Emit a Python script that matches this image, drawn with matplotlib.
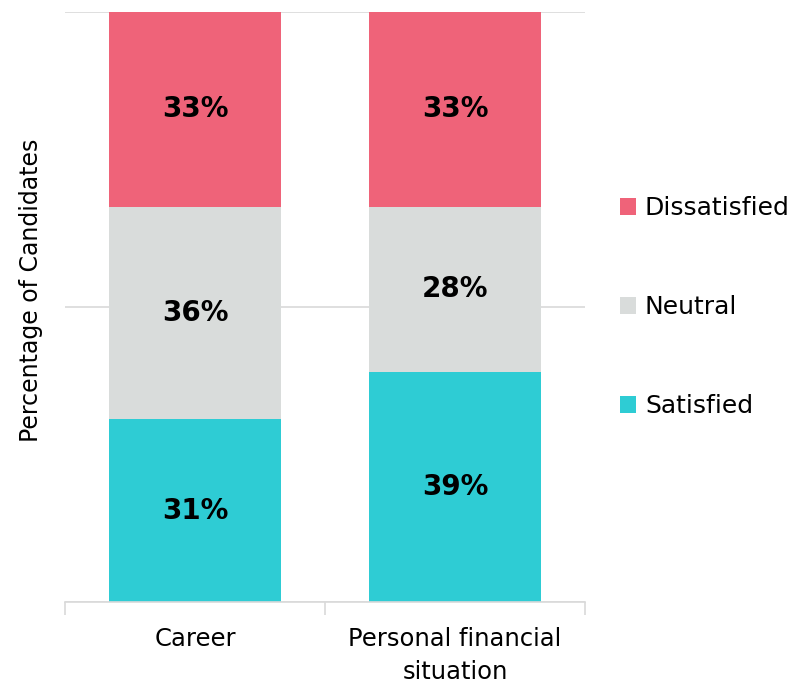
import matplotlib.pyplot as plt
from matplotlib.ticker import FixedLocator

categories = ["Career", "Personal financial\nsituation"]
series = ["Satisfied", "Neutral", "Dissatisfied"]
satisfied = [31, 39]
neutral = [36, 28]
dissatisfied = [33, 33]
colors = ["#2ECCD4", "#D9DCDB", "#EF6379"]

fig = plt.figure(figsize=(7.94, 6.86), dpi=100)
ax = fig.add_axes([65 / 794, 84 / 686, 520 / 794, 590 / 686])

x = range(len(categories))
bottom = [0, 0]
for name, vals, col in zip(series, [satisfied, neutral, dissatisfied], colors):
    bars = ax.bar(x, vals, width=0.665, bottom=bottom, color=col, label=name, zorder=2)
    for b, v, b0 in zip(bars, vals, bottom):
        ax.text(b.get_x() + b.get_width() / 2, b0 + v / 2, f"{v}%",
                ha="center", va="center", fontsize=20, fontweight="bold", color="black", zorder=3)
    bottom = [a + b for a, b in zip(bottom, vals)]

ax.set_xlim(-0.5, 1.5)
ax.set_ylim(0, 100)
ax.set_yticks([0, 50, 100])
ax.set_yticklabels([])
ax.tick_params(axis="y", length=0)
ax.grid(axis="y", color="#D9D9D9", linewidth=1.2, zorder=0)

ax.set_xticks(list(x))
ax.set_xticklabels(categories, fontsize=17.5, linespacing=1.45)
ax.xaxis.set_minor_locator(FixedLocator([-0.5, 0.5, 1.5]))
ax.tick_params(axis="x", which="major", length=0, pad=18)
ax.tick_params(axis="x", which="minor", length=9, color="#D9D9D9", width=1.2)

for s in ["top", "right", "left"]:
    ax.spines[s].set_visible(False)
ax.spines["bottom"].set_color("#D9D9D9")
ax.spines["bottom"].set_linewidth(1.2)

ax.set_ylabel("Percentage of Candidates", fontsize=17)
ax.yaxis.set_label_coords(-0.042, 0.529)

h, l = ax.get_legend_handles_labels()
ax.legend(h[::-1], l[::-1], loc="center left", bbox_to_anchor=(1.024, 0.5), frameon=False,
          fontsize=18, labelspacing=3.0, handlelength=0.65, handleheight=0.65, handletextpad=0.35)

fig.savefig("out.png", dpi=100)
